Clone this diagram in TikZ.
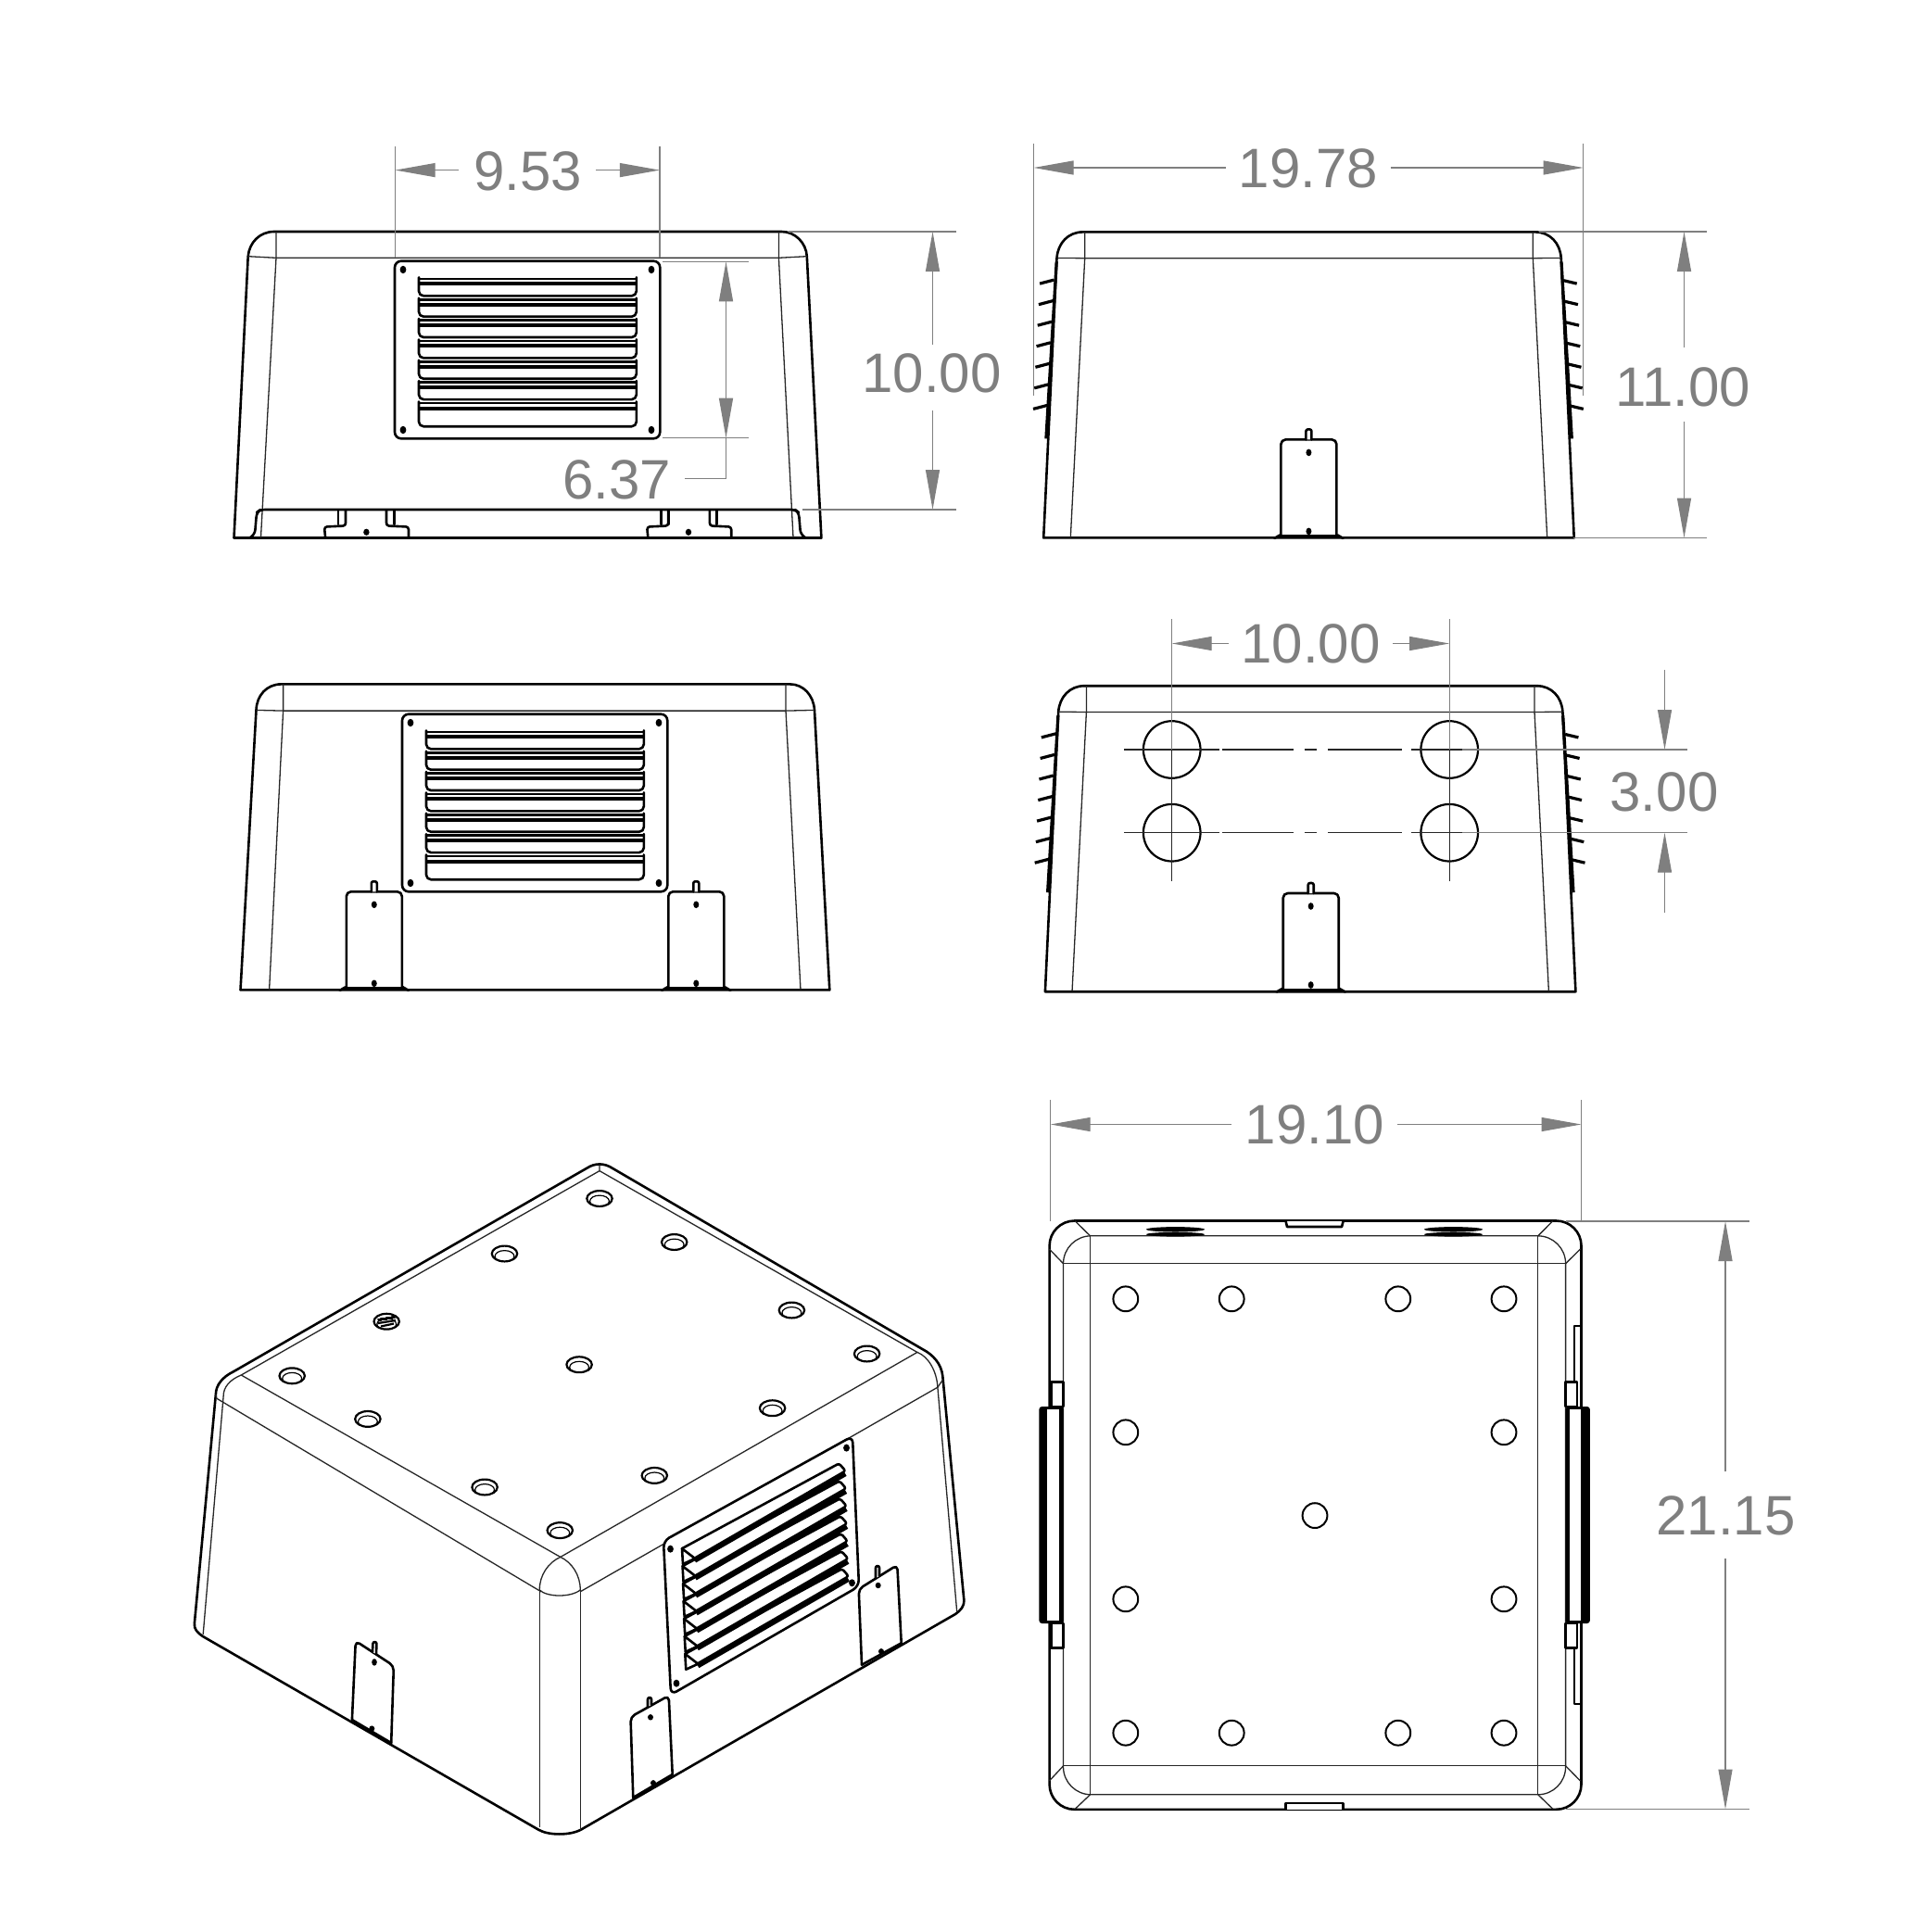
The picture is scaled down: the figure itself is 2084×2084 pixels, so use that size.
\documentclass[tikz,border=0pt]{standalone}
\usepackage{fontspec}
\setmainfont{Liberation Sans}
\usetikzlibrary{arrows.meta}
\definecolor{dimgray}{HTML}{7F7F7F}
\tikzset{
  ol/.style={line width=2.6pt,line join=round,line cap=round,draw=black},
  th/.style={line width=1.3pt,draw=black!85,line join=round},
  dl/.style={line width=1.2pt,draw=dimgray},
  da/.style={line width=1.2pt,draw=dimgray,-{Triangle[length=43pt,width=15pt,fill=dimgray]}},
  dt/.style={text=dimgray,inner sep=0pt,font=\fontsize{60}{60}\selectfont},
  dot/.style={fill=black,draw=none},
}
% flat louvre plate (as in the first view)
\newcommand{\ventflat}{%
  \draw[ol,rounded corners=7pt] (426,281.7) rectangle (712.3,473.3);
  \foreach \p in {(435,291),(703,291),(435,464),(703,464)} \fill[dot] \p ellipse (3.4 and 4.2);
  \foreach \k in {0,...,5}{%
    \pgfmathsetmacro\yy{299.3+22.35*\k}
    \draw[ol,rounded corners=5pt] (452,\yy) -- ++(0,20) -- ++(234.8,0) -- ++(0,-20);
    \draw[line width=2.6pt] (451,\yy) ++(0,1.6) -- ++(236.3,0);
    \draw[line width=4.2pt] (451,\yy) ++(0,7) -- ++(236.3,0);
  }
  \draw[ol,rounded corners=5pt] (452,433.4) -- (452,460.2) -- (686.8,460.2) -- (686.8,433.4);
  \draw[line width=2.2pt] (451,435) -- (687.3,435);
  \draw[line width=4.2pt] (451,440.6) -- (687.3,440.6);
}
% side view body with ticks
\newcommand{\sidebody}{%
  \draw[ol] (1125.5,580) -- (1139.8,278) .. controls (1141,262) and (1152,250) .. (1167.9,250)
    -- (1656,250) .. controls (1672,250) and (1683,262) .. (1684,278) -- (1698,580) -- cycle;
  \draw[th] (1139.8,278) -- (1170,278.3) -- (1653.6,278.3) -- (1684,278);
  \draw[th] (1170,250) -- (1170,278.3) -- (1154.6,580);
  \draw[th] (1653.6,250) -- (1653.6,278.3) -- (1669,580);
  \draw[line width=3.2pt] (1139.5,282) -- (1128.2,473);
  \draw[line width=3.2pt] (1684.3,282) -- (1695.6,473);
  \foreach \k in {0,...,6}{%
    \pgfmathsetmacro\dx{\k*1.18}
    \pgfmathsetmacro\dy{\k*22.55}
    \draw[line width=3.2pt] (1121.4-\dx,305.7+\dy) -- (1136.7-\dx,301.7+\dy);
    \draw[line width=3.2pt] (1686.7+\dx,302.3+\dy) -- (1701+\dx,305.7+\dy);
  }
}
% upright bracket: centre x, top y
\newcommand{\sidebracket}[2]{%
  \draw[ol,rounded corners=5pt,fill=white] (#1-30,#2+104) -- (#1-30,#2) -- (#1+30,#2) -- (#1+30,#2+104);
  \draw[ol,rounded corners=2pt,fill=white] (#1-3,#2) -- (#1-3,#2-11) -- (#1+3,#2-11) -- (#1+3,#2);
  \fill[dot] (#1,#2+14) ellipse (3 and 3.8);
  \fill[dot] (#1,#2+99) ellipse (3 and 3.8);
  \draw[line width=3.5pt] (#1-32,#2+104.5) -- (#1+32,#2+104.5);
  \draw[ol] (#1-37,#2+106.5) -- (#1-31,#2+103);
  \draw[ol] (#1+37,#2+106.5) -- (#1+31,#2+103);
}
% plan hole in the oblique view
\newcommand{\isohole}[2]{%
  \draw[line width=2.2pt] (#1,#2) ellipse (13.7 and 8.4);
  \begin{scope}
    \clip (#1,#2) ellipse (13.7 and 8.4);
    \draw[line width=1.2pt] (#1,#2+2.8) ellipse (10.4 and 6.2);
  \end{scope}
}
% oblique louvre blade k
\newcommand{\isoblade}[1]{%
  \pgfmathsetmacro\dx{#1*0.55}
  \pgfmathsetmacro\dy{#1*18.95}
  \begin{scope}[shift={(\dx,\dy)}]
    \draw[line width=4.4pt] (750,1684.5) -- (912.5,1591);
    \draw[line width=2.6pt,line join=round,fill=white] (736,1671.2) -- (737,1688) -- (750,1682) -- cycle;
    \draw[ol,rounded corners=2.5pt] (736,1671.2) -- (905.5,1579.4) -- (912.5,1587.4) -- (749,1682);
  \end{scope}
}
\begin{document}
\begin{tikzpicture}[x=1pt,y=-1pt]
\useasboundingbox (0,0) rectangle (2084,2084);
\fill[white] (0,0) rectangle (2084,2084);

%% ---------- view 1: front, louvre
\draw[ol] (252.5,580.5) -- (267.7,276.7) .. controls (269,262) and (280,250) .. (295.8,250)
  -- (843.6,250) .. controls (858,250) and (870,262) .. (870.8,276.7) -- (886.4,580.5) -- cycle;
\draw[th] (267.7,276.7) -- (298,278.3) -- (840.4,278.3) -- (870.8,276.7);
\draw[th] (298,250) -- (298,278.3) -- (281.5,580);
\draw[th] (840.4,250) -- (840.4,278.3) -- (856,580);
\ventflat
\draw[ol,rounded corners=5pt] (270,580) -- (275,577) -- (277,553) -- (281,550) -- (858,550) -- (862,553) -- (864,577) -- (869,580);
\foreach \a/\b/\c/\d/\h in {365/373/417/425.3/395.4,713.2/721.2/765.9/773.5/743}{%
  \draw[ol] (\a,551) -- (\a,566);
  \draw[ol] (\b,551) -- (\b,566);
  \draw[ol] (\c,551) -- (\c,566);
  \draw[ol] (\d,551) -- (\d,566);
  \draw[ol,rounded corners=3pt] (\a-14,579) -- (\a-15,568.5) -- (\b,567.5) -- (\b,551);
  \draw[ol,rounded corners=3pt] (\d+15.7,579) -- (\d+15.7,568.5) -- (\c,567.5) -- (\c,551);
  \fill[dot] (\h,574.3) ellipse (3.2 and 3.6);
}

%% ---------- view 2: side
\begin{scope}[shift={(0.7,0.4)}]
\sidebody
\sidebracket{1411.7}{474}
\end{scope}

%% ---------- view 3: rear
\begin{scope}[shift={(7,488.4)}]
\draw[ol] (252.5,580) -- (269.5,278) .. controls (270,262) and (281,250) .. (296.4,250)
  -- (845.6,250) .. controls (860,250) and (871,262) .. (872,278) -- (888.3,580) -- cycle;
\draw[th] (269.5,278) -- (298.6,278.7) -- (841,278.7) -- (872,278);
\draw[th] (298.6,250) -- (298.6,278.7) -- (283.6,580);
\draw[th] (841,250) -- (841,278.7) -- (857,580);
\end{scope}
\begin{scope}[shift={(8,489)}]\ventflat\end{scope}
\sidebracket{403.8}{962.3}
\sidebracket{751.3}{962.3}

%% ---------- view 5: side with holes
\begin{scope}[shift={(2.4,490.2)}]\sidebody\end{scope}
\sidebracket{1414.7}{964}
\foreach \x in {1264.7,1564.2}\foreach \y in {809,898.7}
  \draw[line width=2.2pt] (\x,\y) circle (30.8);
\foreach \x in {1264.7,1564.2} \draw[th] (\x,780) -- (\x,951);
\foreach \y in {809,898.7}{%
  \draw[th] (1213,\y) -- (1316.4,\y);
  \draw[th] (1319,\y) -- (1396,\y);
  \draw[th] (1407.5,\y) -- (1421,\y);
  \draw[th] (1433,\y) -- (1513,\y);
  \draw[th] (1523,\y) -- (1578,\y);
}

%% ---------- oblique view
\draw[ol] (252.1,1480.2) .. controls (240,1486) and (233,1495) .. (232.9,1504.5)
  -- (209.9,1751.7) .. controls (209,1758) and (213,1762) .. (219.2,1766.2)
  -- (581.2,1974.7) .. controls (592,1981) and (615,1981) .. (626.8,1974.7)
  -- (1031,1742) .. controls (1037,1738) and (1040.6,1733) .. (1040.4,1727.5)
  -- (1017.3,1485.1) .. controls (1016,1472) and (1007,1462) .. (995.4,1456)
  -- (660.8,1260.7) .. controls (652,1255) and (642,1255) .. (633.3,1260.7) -- cycle;
\draw[th] (647,1256.5) -- (647,1263.6) -- (260.3,1484) -- (604.8,1680.4) -- (989.9,1459.4) -- (647,1263.6);
\draw[th] (232.9,1505) -- (234,1509.3) -- (584,1717.8);
\draw[th] (1017.5,1489) -- (1011.9,1497.2) -- (626.2,1717.8);
\draw[th] (582.3,1716) .. controls (582,1700) and (592,1686) .. (604.8,1680.4) .. controls (617,1686) and (626.5,1700) .. (626.2,1716);
\draw[th] (582.3,1716) .. controls (590,1723.5) and (615,1724.5) .. (626.2,1716);
\draw[th] (260.3,1484) .. controls (248,1489) and (241,1497) .. (241.1,1507) -- (219.2,1763.8);
\draw[th] (989.9,1459.4) .. controls (1002,1464) and (1011,1480) .. (1011.9,1497.2) -- (1032.7,1739.6);
\draw[th] (582.3,1716) -- (582.3,1972);
\draw[th] (626.2,1716) -- (626.2,1975);
\foreach \x/\y in {647/1293.5,544.5/1353,727.7/1340.5,854.4/1414,935.6/1461,625.1/1472.7,315.2/1484.8,833.6/1519.7,396.9/1531.4,706.3/1592.4,523.1/1605,604.3/1651.6,417.2/1426.2}
  \isohole{\x}{\y}
\draw[line width=2.2pt] (408,1424.5) -- (426,1421.5);
\draw[line width=2.2pt] (408,1428) -- (427,1425);
\draw[line width=2.2pt] (411,1431.5) -- (425,1428.5);
% plate and blades
\draw[ol,rounded corners=7pt,fill=white] (716,1663) -- (920,1550) -- (927,1712) -- (724,1829) -- cycle;
\foreach \p in {(723.5,1671.7),(913.5,1562.6),(919.5,1708.3),(730,1816.7)} \fill[dot] \p ellipse (3.4 and 4);
\foreach \k in {0,...,6}{\isoblade{\k}}
% brackets
\draw[ol,rounded corners=5pt,fill=white] (379.9,1856) -- (383.8,1771) -- (424.9,1797.8) -- (422.2,1881);
\draw[ol,rounded corners=2pt,fill=white] (402,1783) -- (402.5,1772) -- (406.5,1772) -- (406,1785);
\fill[dot] (404,1793.9) ellipse (2.8 and 3.8);
\fill[dot] (401.3,1865.6) ellipse (3 and 3.2);
\draw[ol] (379.9,1856) -- (422.2,1881);
\draw[ol,rounded corners=5pt,fill=white] (683.3,1940) -- (680.5,1853) -- (721.7,1830) -- (725.7,1915);
\draw[ol,rounded corners=2pt,fill=white] (699,1842) -- (699,1832) -- (703,1832) -- (703,1840);
\fill[dot] (702,1853.3) ellipse (3 and 3.2);
\fill[dot] (705,1924.3) ellipse (3 and 3.2);
\draw[ol] (683.3,1940) -- (725.7,1915);
\draw[ol,rounded corners=5pt,fill=white] (930,1796.7) -- (926.7,1715) -- (968.3,1689) -- (972.7,1773.3);
\draw[ol,rounded corners=2pt,fill=white] (945,1703) -- (945,1690) -- (949,1690) -- (949,1701);
\fill[dot] (947.7,1711) ellipse (3 and 3.2);
\fill[dot] (951,1782.3) ellipse (3 and 3.2);
\draw[ol] (930,1796.7) -- (972.7,1773.3);

%% ---------- plan view
\draw[ol,rounded corners=27pt] (1132.6,1317.5) rectangle (1706.5,1952.8);
\draw[th,rounded corners=30pt] (1147.5,1333.8) rectangle (1689.6,1936.8);
\draw[th] (1147.5,1363.7) -- (1689.6,1363.7);
\draw[th] (1147.5,1905.8) -- (1689.6,1905.8);
\draw[th] (1176.5,1333.8) -- (1176.5,1936.8);
\draw[th] (1659.8,1333.8) -- (1659.8,1936.8);
\draw[th] (1160,1317.5) -- (1176.5,1333.8);
\draw[th] (1132.4,1348) -- (1147.5,1363.7);
\draw[th] (1676,1317.5) -- (1659.8,1333.8);
\draw[th] (1705.5,1348) -- (1689.6,1363.7);
\draw[th] (1132.4,1922) -- (1147.5,1905.8);
\draw[th] (1160,1952.5) -- (1176.5,1936.8);
\draw[th] (1705.5,1922) -- (1689.6,1905.8);
\draw[th] (1676,1952.5) -- (1659.8,1936.8);
\begin{scope}[shift={(0.8,0.8)}]
\foreach \x in {1214,1328.4,1508,1622.2}\foreach \y in {1401,1869.4}
  \draw[line width=2pt] (\x,\y) circle (13.4);
\foreach \y in {1545,1725}{\foreach \x in {1214,1622.2}
  \draw[line width=2pt] (\x,\y) circle (13.4);}
\draw[line width=2pt] (1418.2,1634.8) circle (13.4);
\end{scope}
\foreach \x in {1268.5,1568.5}{%
  \fill (\x,1326.8) ellipse (31.5 and 2.7);
  \fill (\x,1332.2) ellipse (31.5 and 2.4);
}
\draw[ol,fill=white] (1387.6,1318) -- (1389,1324) -- (1448,1324) -- (1449.6,1318);
\draw[ol,fill=white] (1387.6,1952.5) -- (1387.6,1946) -- (1449.6,1946) -- (1449.6,1952.5);
% left handle
\draw[ol,fill=white] (1134.5,1491.7) rectangle (1147.5,1518);
\draw[ol,fill=white] (1134.5,1752) rectangle (1147.5,1778.3);
\fill[rounded corners=3pt] (1121.4,1518) rectangle (1147.5,1752);
\fill[white] (1130.4,1521) rectangle (1142.6,1749);
% right side
\draw[ol] (1699,1491.7) -- (1699,1431) -- (1704.7,1431);
\draw[ol] (1699,1778.3) -- (1699,1839) -- (1704.7,1839);
\draw[ol,fill=white] (1689.6,1491.7) rectangle (1702,1518);
\draw[ol,fill=white] (1689.6,1752) rectangle (1702,1778.3);
\fill[rounded corners=3pt] (1689.6,1518) rectangle (1715.8,1752);
\fill[white] (1693.7,1521) rectangle (1706,1749);

%% ---------- dimensions
% 9.53
\draw[dl] (426.6,158) -- (426.6,278);
\draw[dl] (711.9,158) -- (711.9,278);
\draw[da] (495,183.6) -- (426.6,183.6);
\draw[da] (643,183.6) -- (711.9,183.6);
\node[dt] (d953) at (569.5,185) {9.53};
% 6.37
\draw[dl] (715,282.3) -- (808,282.3);
\draw[dl] (715,472.7) -- (808,472.7);
\draw[da] (783.5,380) -- (783.5,282.3);
\draw[da] (783.5,380) -- (783.5,472.7);
\draw[dl] (783.5,472.7) -- (783.5,516.5) -- (739,516.5);
\node[dt] (d637) at (665.5,518) {6.37};
% 10.00 front
\draw[dl] (851,250) -- (1032,250);
\draw[dl] (866,550) -- (1032,550);
\draw[da] (1006.5,372) -- (1006.5,250);
\draw[da] (1006.5,443) -- (1006.5,550);
\node[dt] (d1000a) at (1005.5,403) {10.00};
% 19.78
\draw[dl] (1115.6,155) -- (1115.6,427);
\draw[dl] (1708.6,155) -- (1708.6,427);
\draw[da] (1323,181) -- (1115.6,181);
\draw[da] (1500.5,181) -- (1708.6,181);
\node[dt] (d1978) at (1412,181.5) {19.78};
% 11.00
\draw[dl] (1661,250) -- (1842,250);
\draw[dl] (1698,580.5) -- (1842,580.5);
\draw[da] (1817.5,375) -- (1817.5,250);
\draw[da] (1817.5,455) -- (1817.5,580.5);
\node[dt] (d1100) at (1816.5,417.5) {11.00};
% 10.00 holes
\draw[dl] (1264.7,668) -- (1264.7,809);
\draw[dl] (1564.2,668) -- (1564.2,809);
\draw[da] (1326,694.5) -- (1264.7,694.5);
\draw[da] (1503,694.5) -- (1564.2,694.5);
\node[dt] (d1000b) at (1414.5,695) {10.00};
% 3.00
\draw[dl] (1578,809) -- (1821,809);
\draw[dl] (1578,898.7) -- (1821,898.7);
\draw[da] (1796.5,722.7) -- (1796.5,809);
\draw[da] (1796.5,985) -- (1796.5,898.7);
\node[dt] (d300) at (1796,855) {3.00};
% 19.10
\draw[dl] (1133.7,1187) -- (1133.7,1318);
\draw[dl] (1706.5,1187) -- (1706.5,1318);
\draw[da] (1329,1213.5) -- (1133.7,1213.5);
\draw[da] (1508,1213.5) -- (1706.5,1213.5);
\node[dt] (d1910) at (1419,1214) {19.10};
% 21.15
\draw[dl] (1690,1318) -- (1888,1318);
\draw[dl] (1690,1952.5) -- (1888,1952.5);
\draw[da] (1862,1588) -- (1862,1318);
\draw[da] (1862,1682) -- (1862,1952.5);
\node[dt] (d2115) at (1862.5,1636) {21.15};
\end{tikzpicture}
\end{document}
